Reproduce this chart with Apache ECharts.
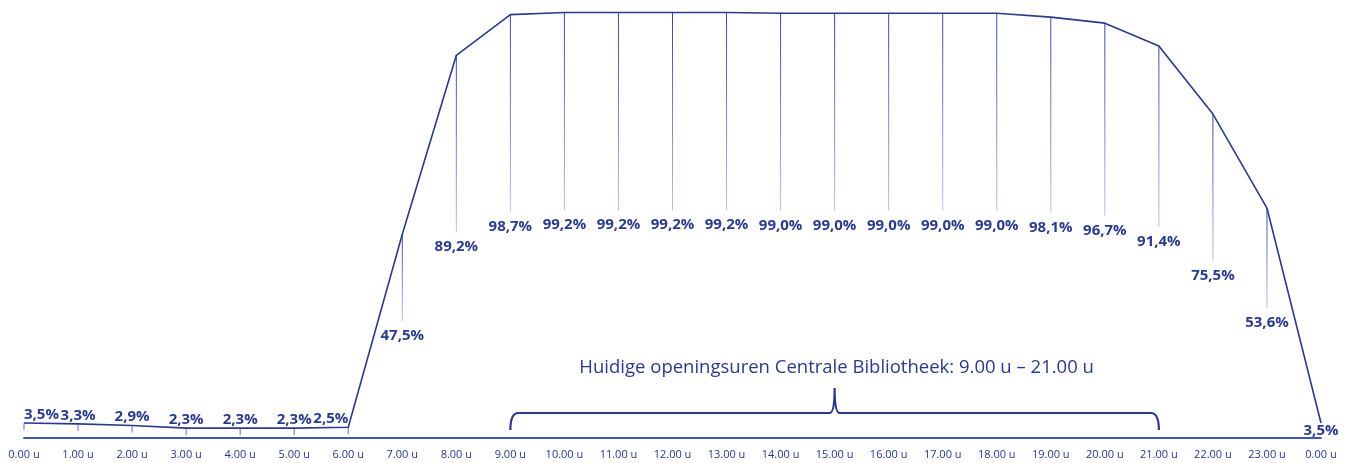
<!DOCTYPE html>
<html>
<head>
<meta charset="utf-8">
<script src="https://cdn.jsdelivr.net/npm/echarts@6/dist/echarts.min.js"></script>
<style>
	html, body { margin: 0; padding: 0; background: #fff; }
	#chart { width: 1351px; height: 463px; }
</style>
</head>
<body>
<div id="chart"></div>
<script>
// uren van de dag (x-as)
var hours = [ "0.00 u", "1.00 u", "2.00 u", "3.00 u", "4.00 u", "5.00 u", "6.00 u",
	"7.00 u", "8.00 u", "9.00 u", "10.00 u", "11.00 u", "12.00 u", "13.00 u",
	"14.00 u", "15.00 u", "16.00 u", "17.00 u", "18.00 u", "19.00 u", "20.00 u",
	"21.00 u", "22.00 u", "23.00 u", "0.00 u" ];
// percentage per uur
var percent = [ 3.5, 3.3, 2.9, 2.3, 2.3, 2.3, 2.5, 47.5, 89.2, 98.7, 99.2, 99.2,
	99.2, 99.2, 99.0, 99.0, 99.0, 99.0, 99.0, 98.1, 96.7, 91.4, 75.5, 53.6, 3.5 ];
// huidige openingsuren (index van begin, midden, einde)
var openHours = [ 9, 15, 21 ];
var openLabel = "Huidige openingsuren Centrale Bibliotheek: 9.00 u \u2013 21.00 u";

var navy = "#2c3a8c";

function fmt(v) {
	return v.toFixed(1).replace(".", ",") + "%";
}

var chart = echarts.init(document.getElementById("chart"));

var labelData = percent.map(function(v, i) { return [ i, v ]; });

chart.setOption({
	animation : false,
	grid : {
		left : 24,
		right : 30,
		top : 9,
		bottom : 25
	},
	xAxis : {
		type : "category",
		data : hours,
		boundaryGap : false,
		axisLine : { lineStyle : { color : "#3f56b2", width : 2 } },
		axisTick : { show : false },
		axisLabel : {
			color : "#1f3a93",
			fontFamily : "Open Sans",
			fontSize : 11,
			margin : 11,
			interval : 0
		}
	},
	yAxis : {
		type : "value",
		min : 0,
		max : 100,
		show : false
	},
	series : [ {
		type : "line",
		data : percent,
		symbol : "none",
		lineStyle : { color : navy, width : 1.6 },
		z : 3
	}, {
		type : "custom",
		data : labelData,
		z : 2,
		renderItem : function(params, api) {
			var i = api.value(0), v = api.value(1);
			var p = api.coord([ i, v ]);
			var mid = api.coord([ i, v / 2 ]);
			var last = i === percent.length - 1;
			var children = [];
			var tx = p[0], ty, va = "middle", align = "center";
			if (last) {
				ty = p[1] + 8;
			} else if (v < 10) {
				ty = p[1] - 1;
				va = "bottom";
				children.push({
					type : "line",
					shape : { x1 : p[0], y1 : p[1], x2 : p[0], y2 : p[1] + 7 },
					style : { stroke : "#5a6ec4", lineWidth : 1 }
				});
				if (i === 0) align = "left";
				else if (percent[i + 1] > 10) align = "right";
			} else {
				ty = mid[1];
				children.push({
					type : "line",
					shape : { x1 : p[0], y1 : p[1], x2 : p[0], y2 : mid[1] - 15 },
					style : {
						lineWidth : 1,
						stroke : {
							type : "linear", x : 0, y : 0, x2 : 0, y2 : 1,
							colorStops : [ { offset : 0, color : "#34479f" },
								{ offset : 1, color : "#b8c3ec" } ]
						}
					}
				});
			}
			children.push({
				type : "text",
				style : {
					x : tx,
					y : ty,
					text : fmt(v),
					fill : navy,
					font : "bold 15px 'Open Sans'",
					align : align,
					verticalAlign : va
				}
			});
			return { type : "group", children : children };
		}
	}, {
		type : "custom",
		data : [ openHours ],
		renderItem : function(params, api) {
			var x1 = api.coord([ api.value(0), 0 ])[0];
			var xm = api.coord([ api.value(1), 0 ])[0];
			var x2 = api.coord([ api.value(2), 0 ])[0];
			var yb = api.coord([ 0, 0 ])[1];
			var yl = yb - 25, ye = yb - 8, yp = yb - 50;
			var d = "M" + x1 + " " + ye + " Q" + x1 + " " + yl + " " + (x1 + 8) + " " + yl
				+ " L" + (xm - 5) + " " + yl + " Q" + xm + " " + yl + " " + xm + " " + yp
				+ " Q" + xm + " " + yl + " " + (xm + 5) + " " + yl
				+ " L" + (x2 - 8) + " " + yl + " Q" + x2 + " " + yl + " " + x2 + " " + ye;
			return {
				type : "group",
				children : [ {
					type : "path",
					shape : { pathData : d },
					style : { fill : null, stroke : navy, lineWidth : 2.2 }
				}, {
					type : "text",
					style : {
						x : xm + 2,
						y : yb - 70,
						text : openLabel,
						fill : navy,
						font : "18.5px 'Open Sans'",
						align : "center",
						verticalAlign : "middle"
					}
				} ]
			};
		}
	} ]
});
</script>
</body>
</html>
